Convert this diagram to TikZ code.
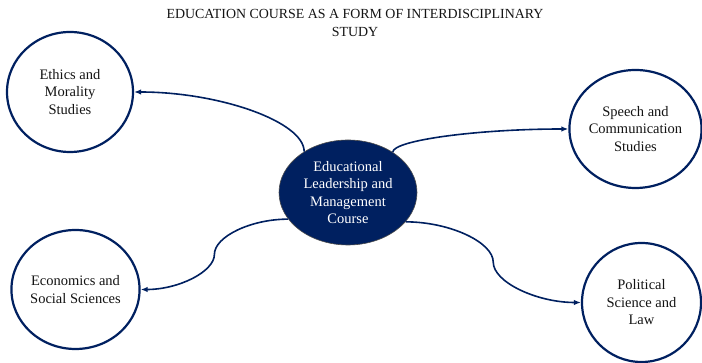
\documentclass[tikz,border=0pt]{standalone}
\usepackage{fontspec}
\setmainfont{Liberation Serif}
\usepackage{tikz}
\usetikzlibrary{positioning}
\usetikzlibrary{shapes.geometric}
\usetikzlibrary{arrows.meta}
\usetikzlibrary{calc}
\definecolor{navy}{RGB}{0,32,96}
\definecolor{ink}{RGB}{20,20,20}
\tikzset{
  field/.style={ellipse, draw=navy, line width=2.2pt, fill=white, inner sep=0pt,
    align=center, text=ink, font=\fontsize{14.5}{17.5}\selectfont},
  core/.style={ellipse, draw=black!70, line width=0.6pt, fill=navy, inner sep=0pt,
    align=center, text=white, font=\fontsize{14.5}{17.5}\selectfont},
  link/.style={draw=navy, line width=1.6pt, ->}
}

\begin{document}
\begin{tikzpicture}[x=1pt, y=1pt, >={Latex[length=7pt,width=5.5pt]}]
\useasboundingbox (0,0) rectangle (702,363);
% Title
\node [align=center, text=ink, font=\fontsize{13.9}{17.5}\selectfont] (title) at (355,340)
  {EDUCATION COURSE AS A FORM OF INTERDISCIPLINARY\\STUDY};
% Nodes
\node [core, minimum width=138pt, minimum height=105pt] (lead) at (348,170.5)
  {Educational\\Leadership and\\Management\\Course};
\node [field, minimum width=126pt, minimum height=120pt] (ethics) at (70,271)
  {Ethics and\\Morality\\Studies};
\node [field, minimum width=125pt, minimum height=118pt] (speech) at (635.5,234)
  {Speech and\\Communication\\Studies};
\node [field, minimum width=125pt, minimum height=119pt] (econ) at (75.5,73.5)
  {Economics and\\Social Sciences};
\node [field, minimum width=119pt, minimum height=119pt] (polit) at (641.5,60.5)
  {Political\\Science and\\Law};
% Connectors
\coordinate (m3) at ($(lead.204)!0.5!(econ.east)$);
\coordinate (m4) at ($(lead.-27)!0.5!(polit.west)$);
\draw [link] (lead.137) .. controls +(0,30) and +(85,0) .. (ethics.east);
\draw [link] (lead.42) .. controls +(0,12) and +(-90,0) .. (speech.west);
\draw [link] (lead.204) .. controls +(-37.5,0) and +(0,17.6) .. (m3)
  .. controls +(0,-17.6) and +(37.5,0) .. (econ.east);
\draw [link] (lead.-27) .. controls +(44,0) and +(0,20) .. (m4)
  .. controls +(0,-20) and +(-44,0) .. (polit.west);
\end{tikzpicture}
\end{document}
